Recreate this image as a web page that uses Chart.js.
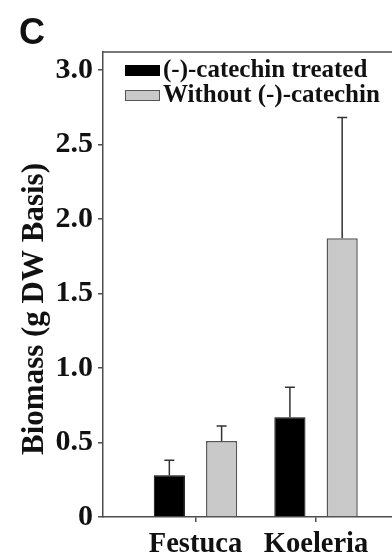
<!DOCTYPE html>
<html>
<head>
<meta charset="utf-8">
<script src="https://cdn.jsdelivr.net/npm/chart.js@4"></script>
<style>
  html, body { margin: 0; padding: 0; background: #fff; overflow: hidden; }
  #wrap  { position: relative; width: 392px; height: 557px; }
  #panel { position: absolute; left: 19px; top: 14px; font: bold 36px "Liberation Sans", Arial, sans-serif; color: #111; line-height: 1; }
</style>
</head>
<body>
<div id="wrap">
  <div id="panel">C</div>
  <canvas id="chartBiomass"></canvas>
</div>
<script>
'use strict';

/* ─── DATA ───────────────────────────────────────────────── */
const SPECIES       = ['Festuca', 'Koeleria'];
const TREATED       = [0.28, 0.67];
const TREATED_ERR   = [0.10, 0.20];
const WITHOUT       = [0.51, 1.87];
const WITHOUT_ERR   = [0.10, 0.81];
const Y_TICKS       = [0, 0.5, 1.0, 1.5, 2.0, 2.5, 3.0];
const SERIES_LABELS = ['(-)-catechin treated', 'Without (-)-catechin'];
const Y_TITLE       = 'Biomass (g DW Basis)';

const SERIF = '"Liberation Serif", "Times New Roman", serif';
const AXIS  = '#4d4d4d';

/* ─── PLUGINS ────────────────────────────────────────────── */
// error bars (upper only), positioned from the bar elements + y scale
const errorBars = {
  id: 'errorBars',
  afterDatasetsDraw(chart) {
    const { ctx } = chart;
    const yScale = chart.scales.y;
    ctx.save();
    ctx.strokeStyle = '#333';
    ctx.lineWidth = 1.5;
    chart.data.datasets.forEach((ds, i) => {
      chart.getDatasetMeta(i).data.forEach((bar, j) => {
        const top = yScale.getPixelForValue(ds.data[j].y + ds.errors[j]);
        ctx.beginPath();
        ctx.moveTo(bar.x, bar.y);
        ctx.lineTo(bar.x, top);
        ctx.moveTo(bar.x - 5, top);
        ctx.lineTo(bar.x + 5, top);
        ctx.stroke();
      });
    });
    ctx.restore();
  },
};

// frame top line, in-plot legend, y title
const decorations = {
  id: 'decorations',
  afterDraw(chart) {
    const { ctx, chartArea } = chart;
    ctx.save();

    ctx.strokeStyle = AXIS;
    ctx.lineWidth = 1.5;
    ctx.beginPath();
    ctx.moveTo(chartArea.left, chartArea.top);
    ctx.lineTo(chartArea.right, chartArea.top);
    ctx.stroke();

    ctx.font = `bold 25px ${SERIF}`;
    ctx.textBaseline = 'middle';
    chart.data.datasets.forEach((ds, i) => {
      const x = chartArea.left + 22;
      const y = chartArea.top + 13 + i * 25;
      ctx.fillStyle = ds.backgroundColor;
      ctx.fillRect(x, y, 35, 11);
      ctx.strokeStyle = ds.borderColor;
      ctx.lineWidth = 1;
      ctx.strokeRect(x + 0.5, y + 0.5, 34, 10);
      ctx.fillStyle = '#111';
      ctx.fillText(ds.label, x + 38, y + 6);
    });

    ctx.translate(35, 309);
    ctx.rotate(-Math.PI / 2);
    ctx.textAlign = 'center';
    ctx.font = `bold 31px ${SERIF}`;
    ctx.fillText(Y_TITLE, 0, 0);
    ctx.restore();
  },
};

/* ─── CHART ──────────────────────────────────────────────── */
const toPoints = vals => vals.map((v, i) => ({ x: i + 1, y: v }));

new Chart(document.getElementById('chartBiomass'), {
  type: 'bar',
  data: {
    datasets: [{
      label: SERIES_LABELS[0],
      data: toPoints(TREATED),
      errors: TREATED_ERR,
      backgroundColor: '#000000',
      borderColor: '#000000',
      borderWidth: 1,
    }, {
      label: SERIES_LABELS[1],
      data: toPoints(WITHOUT),
      errors: WITHOUT_ERR,
      backgroundColor: '#c9c9c9',
      borderColor: '#555555',
      borderWidth: 1.5,
    }],
  },
  options: {
    responsive: true,
    maintainAspectRatio: false,
    animation: false,
    categoryPercentage: 0.867,
    barPercentage: 0.596,
    layout: { padding: { top: 52, left: 0, right: 0, bottom: 0 } },
    plugins: {
      legend: { display: false },
      tooltip: { enabled: false },
    },
    scales: {
      x: {
        type: 'linear',
        min: 0.233,
        max: 2.63,
        offset: false,
        afterBuildTicks: s => { s.ticks = SPECIES.map((_, i) => ({ value: i + 1 })); },
        afterFit: s => { s.height = 40; },
        grid: { offset: false, drawOnChartArea: false, tickLength: 5, color: AXIS, lineWidth: 1.5 },
        border: { color: AXIS, width: 1.5 },
        ticks: {
          autoSkip: false,
          maxRotation: 0,
          padding: 6,
          color: '#111',
          font: { family: SERIF, size: 28.5, weight: 'bold' },
          callback: v => SPECIES[v - 1],
        },
      },
      y: {
        min: 0,
        max: 3.12,
        afterBuildTicks: s => { s.ticks = Y_TICKS.map(v => ({ value: v })); },
        afterFit: s => { s.width = 103; },
        grid: { drawOnChartArea: false, tickLength: 5, color: AXIS, lineWidth: 1.5 },
        border: { color: AXIS, width: 1.5 },
        ticks: {
          padding: 5,
          color: '#111',
          font: { family: SERIF, size: 30, weight: 'bold' },
          callback: v => (v === 0 ? '0' : v.toFixed(1)),
        },
      },
    },
  },
  plugins: [errorBars, decorations],
});
</script>
</body>
</html>
